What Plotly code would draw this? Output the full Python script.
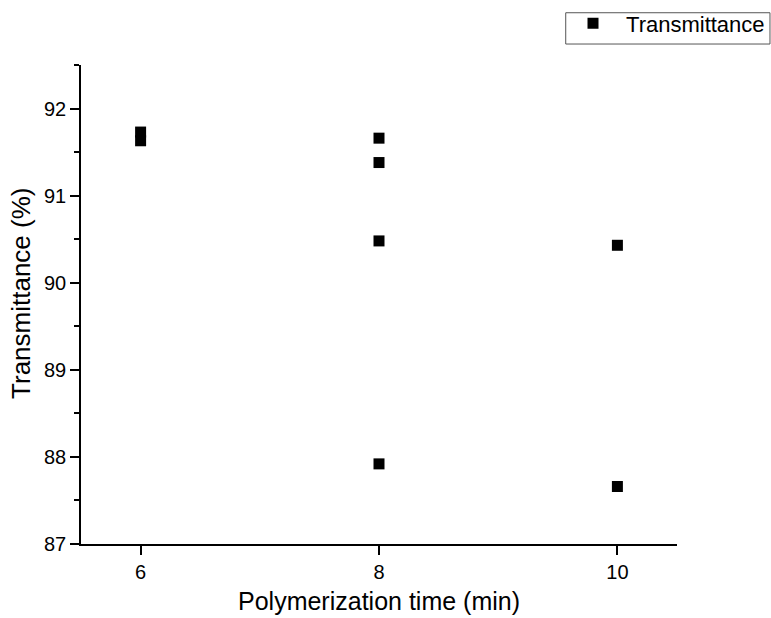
import plotly.graph_objects as go

time_min = [6, 6, 8, 8, 8, 8, 10, 10]
transmittance = [91.73, 91.63, 91.66, 91.38, 90.48, 87.92, 90.43, 87.66]
x_ticks = [6, 8, 10]
y_ticks = [87, 88, 89, 90, 91, 92]
x_title = "Polymerization time (min)"
y_title = "Transmittance (%)"

fig = go.Figure()
fig.add_trace(go.Scatter(
    x=time_min, y=transmittance, mode="markers", name="Transmittance",
    marker=dict(symbol="square", size=11, color="black"),
))

# legend frame (paper coords relative to plot area)
fig.add_shape(type="rect", xref="paper", yref="paper",
              x0=0.8133, x1=1.156, y0=1.0438, y1=1.1091,
              line=dict(color="#555555", width=1), fillcolor="rgba(0,0,0,0)")

# axis titles as annotations for exact placement
fig.add_annotation(text=x_title, xref="paper", yref="paper", x=0.5, y=-0.118,
                   xanchor="center", yanchor="middle", showarrow=False,
                   font=dict(size=25, family="Arial", color="black"))
fig.add_annotation(text=y_title, xref="paper", yref="paper", x=-0.0995, y=0.5235,
                   xanchor="center", yanchor="middle", showarrow=False, textangle=-90,
                   font=dict(size=26, family="Arial", color="black"))

fig.update_layout(
    width=771, height=618,
    margin=dict(l=81, r=94, t=65, b=73.5, autoexpand=False),
    paper_bgcolor="white", plot_bgcolor="white",
    font=dict(family="Arial", color="black"),
    showlegend=True,
    legend=dict(
        x=0.8037, y=1.0867, xanchor="left", yanchor="middle",
        borderwidth=0, bgcolor="rgba(0,0,0,0)",
        font=dict(size=22, family="Arial", color="black"),
        itemwidth=56,
    ),
    xaxis=dict(
        range=[5.5, 10.5], tickvals=x_ticks, showgrid=False, zeroline=False,
        showline=True, linecolor="black", linewidth=1.5, automargin=False,
        ticks="outside", ticklen=9, tickwidth=1.5, tickcolor="black",
        tickfont=dict(size=20),
    ),
    yaxis=dict(
        range=[87, 92.5], tickvals=y_ticks, showgrid=False, zeroline=False,
        showline=True, linecolor="black", linewidth=1.5, automargin=False,
        ticks="outside", ticklen=9, tickwidth=1.5, tickcolor="black",
        tickfont=dict(size=20),
        minor=dict(dtick=0.5, ticks="outside", ticklen=5, tickwidth=1.5, tickcolor="black", showgrid=False),
    ),
)

fig.write_html("out.html")
